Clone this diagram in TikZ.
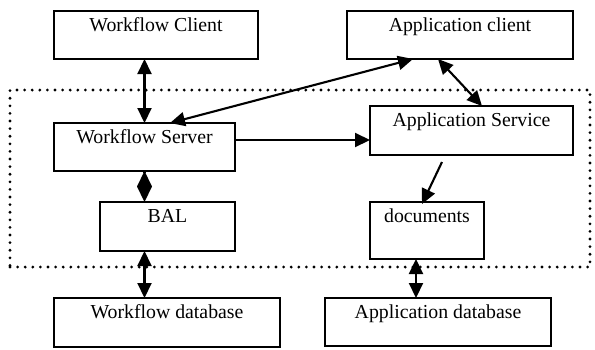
\documentclass[tikz,border=0pt]{standalone}
\usepackage{fontspec}
\setmainfont{Liberation Serif}
\usetikzlibrary{arrows.meta}
\begin{document}
\begin{tikzpicture}[x=1pt,y=-1pt,
  box/.style={draw, line width=1.3pt, inner sep=0pt, outer sep=0pt,
    anchor=north west, text height=20pt,
    font=\fontsize{19.8}{22}\selectfont},
  frame/.style={draw, line width=3.1pt, line cap=round,
    dash pattern=on 0pt off 7.6pt, inner sep=0pt, outer sep=0pt,
    anchor=north west},
  link/.style={line width=2.1pt},
  tip/.tip={Triangle[length=15pt,width=14pt]},
  both/.style={link, tip-tip},
  one/.style={link, -tip},
  agg/.style={link, -{Diamond[length=31pt,width=15pt]}}
]
\useasboundingbox (0,0) rectangle (595,349);

% middleware boundary
\node[frame, minimum width=580pt, minimum height=177pt] (core) at (10,90) {};

% components
\node[box, minimum width=204pt, text depth=28pt] (wc)    at (54,11)   {Workflow Client};
\node[box, minimum width=226pt, text depth=28pt] (ac)    at (347,11)  {Application client};
\node[box, minimum width=181pt, text depth=28pt] (ws)    at (54,123)  {Workflow Server};
\node[box, minimum width=203pt, text depth=29pt] (as)    at (370,106) {Application Service};
\node[box, minimum width=135pt, text depth=29pt] (bal)   at (100,202) {BAL};
\node[box, minimum width=114pt, text depth=37pt] (docs)  at (370,202) {documents};
\node[box, minimum width=226pt, text depth=29pt] (wdb)   at (54,298)  {Workflow database};
\node[box, minimum width=226pt, text depth=28pt] (appdb) at (325,298) {Application database};

% connectors
\draw[both] (ws.north |- wc.south) -- (ws.north);
\draw[both] ([xshift=25.5pt]ws.north) -- ([xshift=-47pt]ac.south);
\draw[both] ([xshift=-22pt]ac.south) -- ([xshift=10.5pt]as.north);
\draw[one]  ([yshift=7pt]ws.east) -- ([yshift=7pt]ws.east -| as.west);
\draw[one]  ([xshift=-29.5pt,yshift=-7pt]as.south) -- ([xshift=-5pt,yshift=-2pt]docs.north);
\draw[agg]  (ws.south) -- (ws.south |- bal.north);
\draw[both] (ws.south |- bal.south) -- (ws.south |- wdb.north);
\draw[both] ([xshift=-11pt]docs.south) -- ([xshift=-11pt]docs.south |- appdb.north);
\end{tikzpicture}
\end{document}
